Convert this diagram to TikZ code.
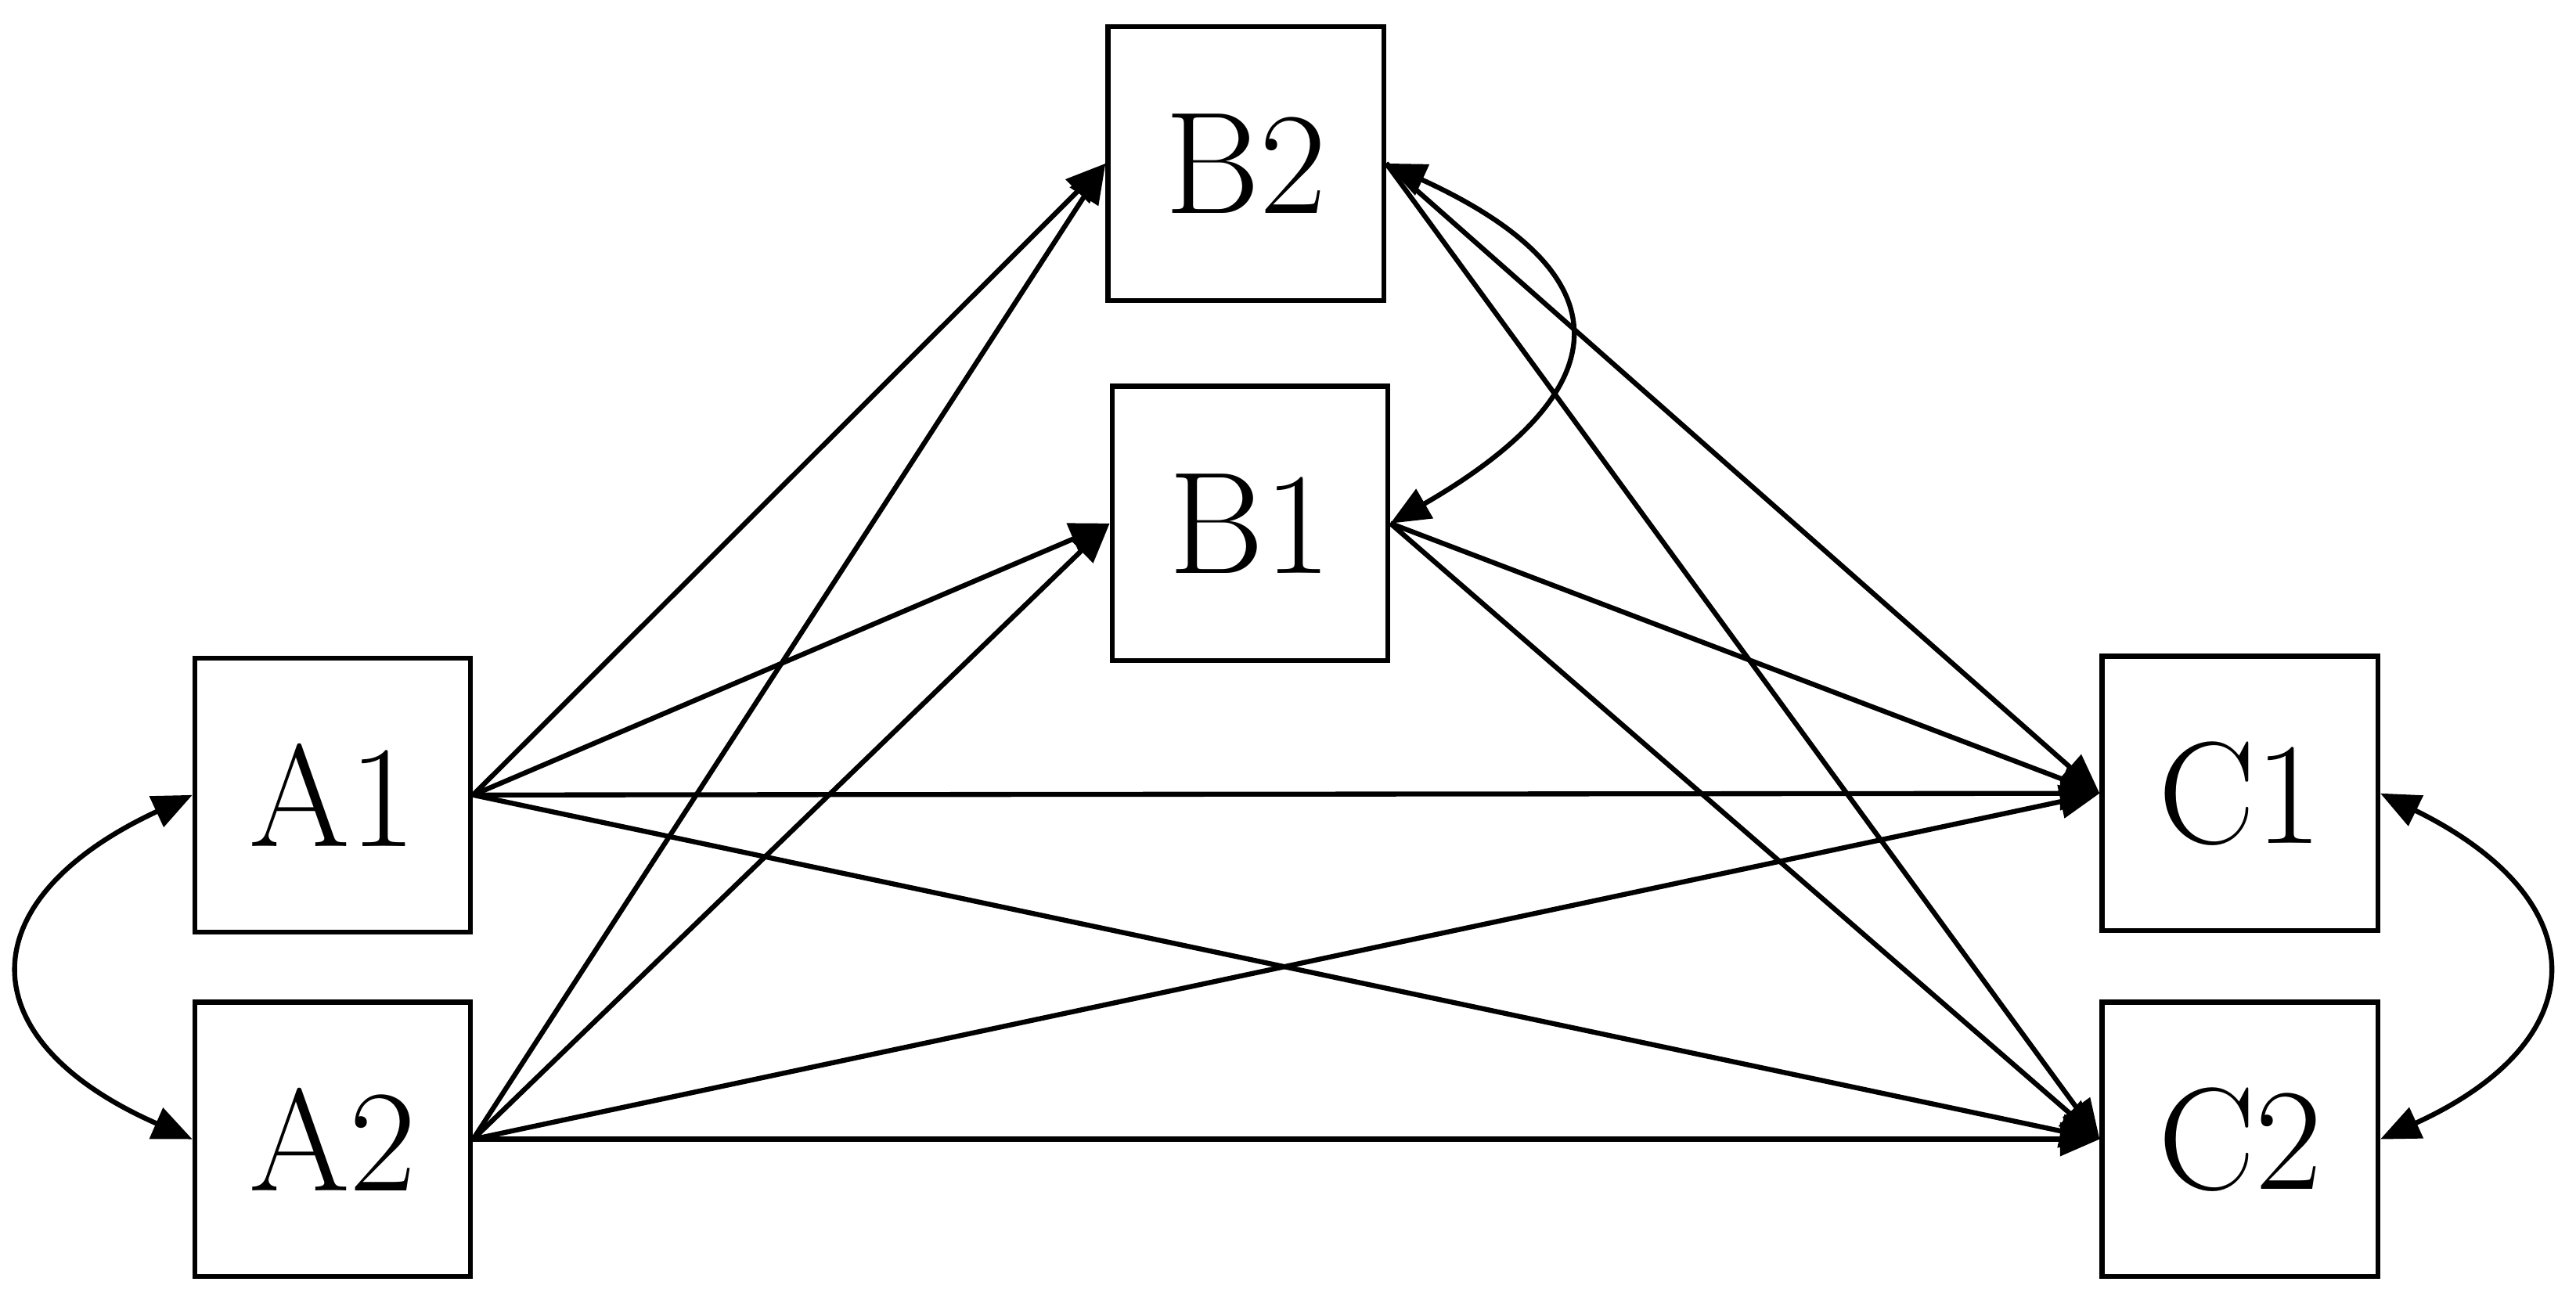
\documentclass[tikz,border=0pt]{standalone}
\usetikzlibrary{arrows.meta}
\begin{document}
\begin{tikzpicture}[x=0.5pt,y=-0.5pt,
  box/.style={draw,line width=1.5pt,minimum width=83.5pt,minimum height=83pt,inner sep=0pt,font=\fontsize{44}{50}\selectfont},
  edge/.style={line width=1.5pt,-{Triangle[length=12pt,width=10pt]}},
  bedge/.style={line width=1.5pt,{Triangle[length=12pt,width=10pt]}-{Triangle[length=12pt,width=10pt]}}]
\useasboundingbox (0,0) rectangle (1560,791.6);
\node[box] (A1) at (201.5,481.5) {A1};
\node[box] (A2) at (201.5,690) {A2};
\node[box] (B2) at (754.5,99) {B2};
\node[box] (B1) at (757,317) {B1};
\node[box] (C1) at (1356.5,480.5) {C1};
\node[box] (C2) at (1356.5,690) {C2};
\draw[edge] (A1.east) -- (B2.west);
\draw[edge] (A1.east) -- (B1.west);
\draw[edge] (A1.east) -- (C1.west);
\draw[edge] (A1.east) -- (C2.west);
\draw[edge] (A2.east) -- (B2.west);
\draw[edge] (A2.east) -- (B1.west);
\draw[edge] (A2.east) -- (C1.west);
\draw[edge] (A2.east) -- (C2.west);
\draw[edge] (B1.east) -- (C1.west);
\draw[edge] (B1.east) -- (C2.west);
\draw[edge] (B2.east) -- (C1.west);
\draw[edge] (B2.east) -- (C2.west);
\draw[bedge] (A1.west) .. controls (-20,545) and (-20,630) .. (A2.west);
\draw[bedge] (C1.east) .. controls (1573,545) and (1573,630) .. (C2.east);
\draw[bedge] (B2.east) .. controls (984,165) and (984,235) .. (B1.east);
\end{tikzpicture}
\end{document}
